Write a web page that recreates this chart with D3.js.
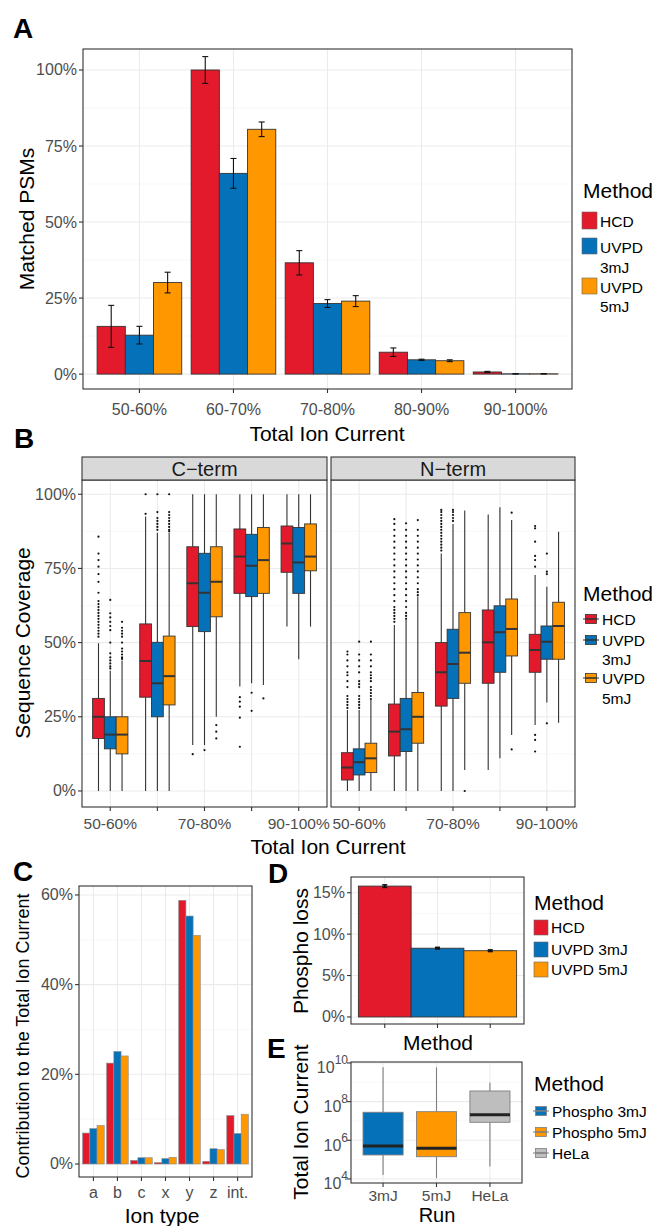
<!DOCTYPE html>
<html>
<head>
<meta charset="utf-8">
<script src="https://cdn.jsdelivr.net/npm/d3@7"></script>
<style>
body { margin: 0; background: #fff; }
text { font-family: "Liberation Sans", Arial, Helvetica, sans-serif; }
</style>
</head>
<body>
<svg id="fig" width="655" height="1226"></svg>
<script>
// ---- data ----
const methods = ['HCD', 'UVPD 3mJ', 'UVPD 5mJ']
const methodColors = ['#e31a2c', '#0571b9', '#ff9800']
const ticBins = ['50-60%', '60-70%', '70-80%', '80-90%', '90-100%']
const ticBinLabelsB = ['50-60%', '', '70-80%', '', '90-100%']

// A: matched PSMs
const psmHCD = [15.7, 100, 36.6, 7.2, 0.7]
const psmHCDErr = [6.9, 4.4, 4.0, 1.4, 0.2]
const psmUV3 = [12.8, 66.0, 23.2, 4.7, 0.1]
const psmUV3Err = [2.9, 4.9, 1.3, 0.2, 0.05]
const psmUV5 = [30.1, 80.5, 24.0, 4.4, 0.1]
const psmUV5Err = [3.4, 2.4, 1.8, 0.3, 0.05]
const pctTicks = [0, 25, 50, 75, 100]

// B: sequence coverage boxes [low whisker, q1, median, q3, high whisker]
const cTermHCD = [[0, 17.7, 25.0, 31.2, 49.8], [0, 31.6, 43.8, 56.3, 92.5], [15.5, 55.4, 70.0, 82.3, 100], [35.2, 66.6, 79.0, 88.3, 100], [55.4, 73.7, 83.4, 89.3, 100]]
const cTermUV3 = [[0, 14.2, 19.0, 25.0, 40.5], [0, 25.0, 36.3, 50.1, 87], [15.5, 53.7, 66.8, 80.1, 100], [36.3, 65.5, 75.9, 86.5, 100], [44.4, 66.6, 77.0, 88.8, 100]]
const cTermUV5 = [[0, 12.5, 19.0, 25.0, 44], [0, 29.0, 38.7, 52.2, 87], [25.0, 58.7, 70.5, 82.3, 100], [35.7, 66.6, 77.8, 88.8, 100], [55.4, 74.2, 79.0, 90.0, 100]]
const cTermHCDOut = [[52, 53, 54, 55, 56, 57, 58, 59, 60, 61, 62, 63, 64, 66.8, 70.5, 73.1, 75.6, 77.8, 80, 85.7], [93.4, 100], [12.4], [31.6, 30.1, 28.4, 24.7, 14.9], []]
const cTermUV3Out = [[41.3, 42, 43, 44, 45, 46.4, 50, 54.2, 55.6, 57, 58.5, 59.9, 64.4], [88, 89, 90, 91, 92, 94, 100], [13.8], [33.1, 27.0], []]
const cTermUV5Out = [[44.5, 45, 46, 47, 48, 50, 52, 53, 54, 55, 57], [87.5, 88, 89, 90, 91, 92, 93, 94, 100], [22.2, 20.0, 17.7], [31.2], []]
const nTermHCD = [[0, 3.7, 7.9, 12.9, 27.3], [0, 11.8, 20.0, 29.3, 55.9], [0, 28.6, 40.0, 50.0, 80], [7.1, 36.3, 50.1, 61.0, 93.2], [22.2, 40.0, 47.5, 52.8, 72.8]]
const nTermUV3 = [[0, 5.4, 9.7, 14.2, 27.3], [0, 13.3, 20.8, 31.2, 57.6], [0, 31.2, 42.8, 54.5, 90], [11.0, 40.0, 53.5, 62.4, 95.6], [29.8, 44.4, 50.3, 55.6, 68.8]]
const nTermUV5 = [[0, 6.2, 11.0, 16.1, 30.7], [0, 16.1, 25.0, 33.2, 65.5], [7.1, 36.3, 46.6, 60.1, 94.5], [18.9, 45.5, 54.6, 64.7, 91.3], [23.0, 44.4, 55.6, 63.6, 87.4]]
const nTermHCDOut = [[28, 29, 30, 31, 32, 35, 37, 39, 40, 42, 44, 46, 47], [57, 58, 59, 60, 61, 62, 64, 66, 68, 70, 72, 74, 76, 78, 80, 82, 84, 86, 88, 90, 91.6], [81, 82, 83, 84, 85, 86, 87, 88, 89, 90, 91, 92, 93, 94, 94.7], [], [18.9, 17.2, 13.3, 75.6, 77.8, 79.2, 84, 88.5, 89.3]]
const nTermUV3Out = [[28, 29, 30, 31, 32, 35, 36, 37, 40, 42, 44, 46, 50.3], [58, 59, 60, 62, 64, 66, 68, 70, 72, 74, 76, 78, 80, 82, 84, 86, 88, 90.2], [91, 92, 93, 94, 94.7], [], [22.8, 73.1, 73.9, 80]]
const nTermUV5Out = [[31, 32, 33, 34, 35, 37, 38, 39, 40, 42, 44, 46, 50.3], [66, 67, 68, 70, 72, 74, 76, 78, 80, 82, 84, 86, 88, 91.3], [0], [14.0, 93.8], []]

// C: contribution to total ion current
const ionTypes = ['a', 'b', 'c', 'x', 'y', 'z', 'int.']
const ionHCD = [6.9, 22.5, 0.8, 0.3, 58.8, 0.6, 10.8]
const ionUV3 = [7.9, 25.1, 1.4, 1.2, 55.3, 3.4, 6.8]
const ionUV5 = [8.6, 24.1, 1.4, 1.5, 51.0, 3.2, 11.1]
const ionTicks = [0, 20, 40, 60]

// D: phospho loss
const phosphoLoss = [15.8, 8.3, 8.0]
const phosphoLossErr = [0.15, 0.1, 0.1]
const lossTicks = [0, 5, 10, 15]

// E: total ion current (log10) boxes [low, q1, median, q3, high]
const runs = ['3mJ', '5mJ', 'HeLa']
const runNames = ['Phospho 3mJ', 'Phospho 5mJ', 'HeLa']
const runColors = ['#0571b9', '#ff9800', '#bebebe']
const ticLog = [[4.21, 5.24, 5.71, 7.45, 9.78], [4.04, 5.15, 5.59, 7.48, 9.77], [4.64, 6.93, 7.32, 8.55, 8.98]]
const ticExpTicks = [4, 6, 8, 10]

// ---- helpers ----
const svg = d3.select('#fig')
const INK = '#333333'
const TXT = '#4d4d4d'
const GRID = '#ebebeb'

function hGrid(y, vals, x0, x1, minor) {
    vals.forEach(v => {
        svg.append('line').attr('x1', x0).attr('x2', x1).attr('y1', y(v)).attr('y2', y(v))
            .attr('stroke', minor ? '#f3f3f3' : GRID).attr('stroke-width', minor ? 0.6 : 1.1)
    })
}
function vGrid(xs, y0, y1) {
    xs.forEach(x => {
        svg.append('line').attr('x1', x).attr('x2', x).attr('y1', y0).attr('y2', y1)
            .attr('stroke', GRID).attr('stroke-width', 1.1)
    })
}
function border(x0, y0, x1, y1) {
    svg.append('rect').attr('x', x0).attr('y', y0).attr('width', x1 - x0).attr('height', y1 - y0)
        .attr('fill', 'none').attr('stroke', INK).attr('stroke-width', 1.1)
}
function yTicks(y, vals, fmt, x0) {
    vals.forEach(v => {
        svg.append('line').attr('x1', x0 - 4).attr('x2', x0).attr('y1', y(v)).attr('y2', y(v))
            .attr('stroke', INK).attr('stroke-width', 1.1)
        svg.append('text').attr('x', x0 - 6).attr('y', y(v)).attr('text-anchor', 'end')
            .attr('dominant-baseline', 'central').attr('font-size', 16).attr('fill', TXT).text(fmt(v))
    })
}
function xTicks(x, cats, labels, y1, labelY, size) {
    cats.forEach((c, i) => {
        const cx = x(c) + x.bandwidth() / 2
        svg.append('line').attr('x1', cx).attr('x2', cx).attr('y1', y1).attr('y2', y1 + 4)
            .attr('stroke', INK).attr('stroke-width', 1.1)
        if (labels[i]) svg.append('text').attr('x', cx).attr('y', labelY).attr('text-anchor', 'middle')
            .attr('dominant-baseline', 'central').attr('font-size', size || 16).attr('fill', TXT).text(labels[i])
    })
}
function title(x, y, txt, rotate, size) {
    svg.append('text').attr('transform', `translate(${x},${y})` + (rotate ? ' rotate(-90)' : ''))
        .attr('text-anchor', 'middle').attr('dominant-baseline', 'central')
        .attr('font-size', size || 21).attr('fill', '#000').text(txt)
}
function letter(x, y, txt) {
    svg.append('text').attr('x', x).attr('y', y).attr('font-size', 28).attr('font-weight', 'bold').text(txt)
}
function legendTitle(x, y) {
    svg.append('text').attr('x', x).attr('y', y).attr('dominant-baseline', 'central')
        .attr('font-size', 21).text('Method')
}
function legendLabel(x, y, txt) {
    svg.append('text').attr('x', x).attr('y', y).attr('dominant-baseline', 'central')
        .attr('font-size', 15.5).attr('fill', '#000').text(txt)
}
function boxKey(x, yc, color, stroke) {
    svg.append('line').attr('x1', x).attr('x2', x + 16).attr('y1', yc).attr('y2', yc)
        .attr('stroke', stroke).attr('stroke-width', 1)
    svg.append('rect').attr('x', x + 2.5).attr('y', yc - 4.5).attr('width', 11).attr('height', 9)
        .attr('fill', color).attr('stroke', stroke).attr('stroke-width', 0.8)
    svg.append('line').attr('x1', x + 2.5).attr('x2', x + 13.5).attr('y1', yc).attr('y2', yc)
        .attr('stroke', stroke).attr('stroke-width', 1.6)
}
function box(cx, w, y, s, color, stroke, medWidth) {
    svg.append('line').attr('x1', cx).attr('x2', cx).attr('y1', y(s[0])).attr('y2', y(s[1]))
        .attr('stroke', stroke).attr('stroke-width', 1.1)
    svg.append('line').attr('x1', cx).attr('x2', cx).attr('y1', y(s[3])).attr('y2', y(s[4]))
        .attr('stroke', stroke).attr('stroke-width', 1.1)
    svg.append('rect').attr('x', cx - w / 2).attr('y', y(s[3])).attr('width', w).attr('height', y(s[1]) - y(s[3]))
        .attr('fill', color).attr('stroke', stroke).attr('stroke-width', 0.9)
    svg.append('line').attr('x1', cx - w / 2).attr('x2', cx + w / 2).attr('y1', y(s[2])).attr('y2', y(s[2]))
        .attr('stroke', stroke === INK ? INK : '#222').attr('stroke-width', medWidth)
}

// ---- A ----
letter(13, 38, 'A')
const xA = d3.scaleBand().domain(ticBins).range([83, 572]).paddingOuter(0.1)
const yA = d3.scaleLinear().domain([-4.9, 106.9]).range([389, 49])
hGrid(yA, [12.5, 37.5, 62.5, 87.5], 83, 572, true)
hGrid(yA, pctTicks, 83, 572, false)
vGrid(ticBins.map(c => xA(c) + xA.bandwidth() / 2), 49, 389)
const subA = d3.scaleBand().domain(methods).range([0, xA.bandwidth() * 0.9])
const psmSeries = [psmHCD, psmUV3, psmUV5]
const psmErrs = [psmHCDErr, psmUV3Err, psmUV5Err]
methods.forEach((m, i) => {
    ticBins.forEach((b, j) => {
        const v = psmSeries[i][j]
        const x0 = xA(b) + xA.bandwidth() * 0.05 + subA(m)
        svg.append('rect').attr('x', x0).attr('y', yA(v)).attr('width', subA.bandwidth())
            .attr('height', yA(0) - yA(v)).attr('fill', methodColors[i]).attr('stroke', INK).attr('stroke-width', 0.9)
    })
})
methods.forEach((m, i) => {
    ticBins.forEach((b, j) => {
        const v = psmSeries[i][j], e = psmErrs[i][j]
        const cx = xA(b) + xA.bandwidth() * 0.05 + subA(m) + subA.bandwidth() / 2
        const g = svg.append('g').attr('stroke', '#111').attr('stroke-width', 1.1)
        g.append('line').attr('x1', cx).attr('x2', cx).attr('y1', yA(v - e)).attr('y2', yA(v + e))
        g.append('line').attr('x1', cx - 3).attr('x2', cx + 3).attr('y1', yA(v - e)).attr('y2', yA(v - e))
        g.append('line').attr('x1', cx - 3).attr('x2', cx + 3).attr('y1', yA(v + e)).attr('y2', yA(v + e))
    })
})
border(83, 49, 572, 389)
yTicks(yA, pctTicks, d => d + '%', 83)
xTicks(xA, ticBins, ticBins, 389, 409)
title(327, 433, 'Total Ion Current')
title(26, 219, 'Matched PSMs', true)
legendTitle(583, 190)
const keyA = [[212, 229], [238, 254], [278, 294]]
methods.forEach((m, i) => {
    svg.append('rect').attr('x', 582).attr('y', keyA[i][0]).attr('width', 15).attr('height', keyA[i][1] - keyA[i][0])
        .attr('fill', methodColors[i]).attr('stroke', '#666').attr('stroke-width', 0.6)
})
legendLabel(600, 221, 'HCD')
legendLabel(600, 247, 'UVPD')
legendLabel(600, 267, '3mJ')
legendLabel(600, 287, 'UVPD')
legendLabel(600, 306, '5mJ')

// ---- B ----
letter(14, 448, 'B')
const yB = d3.scaleLinear().domain([-5.4, 104.8]).range([807, 480])
const facets = [
    { name: 'C\u2212term', x0: 82, x1: 327, boxes: [cTermHCD, cTermUV3, cTermUV5], outs: [cTermHCDOut, cTermUV3Out, cTermUV5Out] },
    { name: 'N\u2212term', x0: 331, x1: 575, boxes: [nTermHCD, nTermUV3, nTermUV5], outs: [nTermHCDOut, nTermUV3Out, nTermUV5Out] }
]
facets.forEach(f => {
    const x = d3.scaleBand().domain(ticBins).range([f.x0, f.x1]).paddingOuter(0.1)
    hGrid(yB, [12.5, 37.5, 62.5, 87.5], f.x0, f.x1, true)
    hGrid(yB, pctTicks, f.x0, f.x1, false)
    vGrid(ticBins.map(c => x(c) + x.bandwidth() / 2), 480, 807)
    const sub = d3.scaleBand().domain(methods).range([0, x.bandwidth() * 0.75])
    methods.forEach((m, i) => {
        ticBins.forEach((b, j) => {
            const cx = x(b) + x.bandwidth() * 0.125 + sub(m) + sub.bandwidth() / 2
            f.outs[i][j].forEach(o => {
                svg.append('circle').attr('cx', cx).attr('cy', yB(o)).attr('r', 1.1).attr('fill', '#111')
            })
            box(cx, sub.bandwidth(), yB, f.boxes[i][j], methodColors[i], INK, 2)
        })
    })
    border(f.x0, 480, f.x1, 807)
    svg.append('rect').attr('x', f.x0).attr('y', 457).attr('width', f.x1 - f.x0).attr('height', 23)
        .attr('fill', '#d9d9d9').attr('stroke', INK).attr('stroke-width', 1.1)
    svg.append('text').attr('x', (f.x0 + f.x1) / 2).attr('y', 469).attr('text-anchor', 'middle')
        .attr('dominant-baseline', 'central').attr('font-size', 20).attr('fill', '#1a1a1a').text(f.name)
    xTicks(x, ticBins, ticBinLabelsB, 807, 823, 15.5)
})
yTicks(yB, pctTicks, d => d + '%', 82)
title(328, 846, 'Total Ion Current')
title(22, 643, 'Sequence Coverage', true)
legendTitle(583, 593)
boxKey(583, 619, methodColors[0], INK)
boxKey(583, 640, methodColors[1], INK)
boxKey(583, 678, methodColors[2], INK)
legendLabel(602, 619, 'HCD')
legendLabel(602, 640, 'UVPD')
legendLabel(602, 659, '3mJ')
legendLabel(602, 678, 'UVPD')
legendLabel(602, 698, '5mJ')

// ---- C ----
letter(13, 881, 'C')
const xC = d3.scaleBand().domain(ionTypes).range([79, 252]).paddingOuter(0.1)
const yC = d3.scaleLinear().domain([-2.9, 62.0]).range([1177, 886])
hGrid(yC, [10, 30, 50], 79, 252, true)
hGrid(yC, ionTicks, 79, 252, false)
vGrid(ionTypes.map(c => xC(c) + xC.bandwidth() / 2), 886, 1177)
const subC = d3.scaleBand().domain(methods).range([0, xC.bandwidth() * 0.9])
const ionSeries = [ionHCD, ionUV3, ionUV5]
methods.forEach((m, i) => {
    ionTypes.forEach((t, j) => {
        const v = ionSeries[i][j]
        svg.append('rect').attr('x', xC(t) + xC.bandwidth() * 0.05 + subC(m)).attr('y', yC(v))
            .attr('width', subC.bandwidth()).attr('height', yC(0) - yC(v))
            .attr('fill', methodColors[i]).attr('stroke', '#8c8c8c').attr('stroke-width', 0.6)
    })
})
border(79, 886, 252, 1177)
yTicks(yC, ionTicks, d => d + '%', 79)
xTicks(xC, ionTypes, ionTypes, 1177, 1192)
title(162, 1215, 'Ion type')
title(23, 1036, 'Contribution to the Total Ion Current', true, 18)

// ---- D ----
letter(268, 883, 'D')
const xD = d3.scaleBand().domain(methods).range([351, 524]).paddingOuter(0.14)
const yD = d3.scaleLinear().domain([-0.85, 16.9]).range([1024, 877])
hGrid(yD, [2.5, 7.5, 12.5], 351, 524, true)
hGrid(yD, lossTicks, 351, 524, false)
vGrid(methods.map(c => xD(c) + xD.bandwidth() / 2), 877, 1024)
methods.forEach((m, i) => {
    const v = phosphoLoss[i], e = phosphoLossErr[i]
    svg.append('rect').attr('x', xD(m)).attr('y', yD(v)).attr('width', xD.bandwidth())
        .attr('height', yD(0) - yD(v)).attr('fill', methodColors[i]).attr('stroke', INK).attr('stroke-width', 0.9)
    const cx = xD(m) + xD.bandwidth() / 2
    const g = svg.append('g').attr('stroke', '#111').attr('stroke-width', 1.6)
    g.append('line').attr('x1', cx).attr('x2', cx).attr('y1', yD(v - e)).attr('y2', yD(v + e))
    g.append('line').attr('x1', cx - 2.5).attr('x2', cx + 2.5).attr('y1', yD(v - e)).attr('y2', yD(v - e))
    g.append('line').attr('x1', cx - 2.5).attr('x2', cx + 2.5).attr('y1', yD(v + e)).attr('y2', yD(v + e))
})
border(351, 877, 524, 1024)
yTicks(yD, lossTicks, d => d + '%', 351)
xTicks(xD, methods, ['', '', ''], 1024, 1035)
title(438, 1042, 'Method')
title(300, 951, 'Phospho loss', true)
legendTitle(534, 902)
const keyD = [[920, 935], [942, 957], [962, 977]]
methods.forEach((m, i) => {
    svg.append('rect').attr('x', 534).attr('y', keyD[i][0]).attr('width', 14).attr('height', keyD[i][1] - keyD[i][0])
        .attr('fill', methodColors[i]).attr('stroke', '#666').attr('stroke-width', 0.6)
    legendLabel(551, (keyD[i][0] + keyD[i][1]) / 2, m)
})

// ---- E ----
letter(267, 1058, 'E')
const xE = d3.scaleBand().domain(runs).range([351, 522]).paddingOuter(0.1)
const yE = d3.scaleLinear().domain([3.79, 10.05]).range([1183, 1062])
hGrid(yE, [5, 7, 9], 351, 522, true)
hGrid(yE, ticExpTicks, 351, 522, false)
vGrid(runs.map(c => xE(c) + xE.bandwidth() / 2), 1062, 1183)
runs.forEach((r, i) => {
    box(xE(r) + xE.bandwidth() / 2, xE.bandwidth() * 0.75, yE, ticLog[i], runColors[i], '#7f7f7f', 3)
})
border(351, 1062, 522, 1183)
ticExpTicks.forEach(k => {
    svg.append('line').attr('x1', 347).attr('x2', 351).attr('y1', yE(k)).attr('y2', yE(k))
        .attr('stroke', INK).attr('stroke-width', 1.1)
    const t = svg.append('text').attr('x', 348).attr('y', yE(k) + 10.5).attr('text-anchor', 'end')
        .attr('font-size', 16).attr('fill', TXT)
    t.append('tspan').text('10')
    t.append('tspan').attr('dy', -9).attr('font-size', 12).text(k)
})
xTicks(xE, runs, runs, 1183, 1195, 15.5)
title(437, 1215, 'Run', false, 20)
title(300, 1122, 'Total Ion Current', true)
legendTitle(534, 1083)
runNames.forEach((n, i) => {
    const yc = [1111, 1132, 1153][i]
    boxKey(533, yc, runColors[i], '#7f7f7f')
    legendLabel(552, yc, n)
})
</script>
</body>
</html>
